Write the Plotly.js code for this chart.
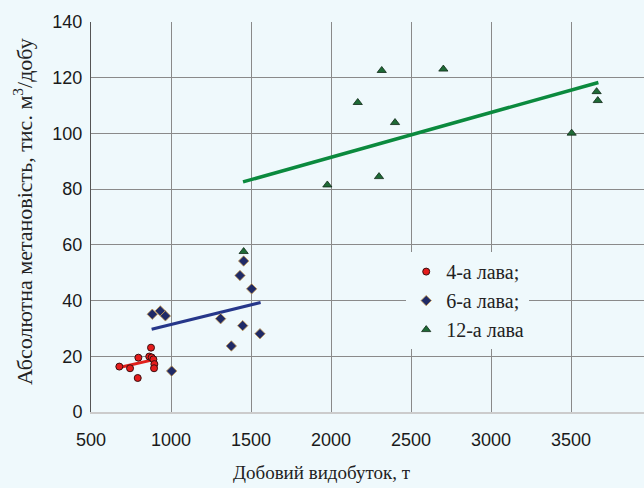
<!DOCTYPE html>
<html><head><meta charset="utf-8">
<script src="https://cdn.plot.ly/plotly-3.0.1.min.js"></script>
<style>html,body{margin:0;padding:0;background:#eff9fc;}#chart{width:644px;height:488px;}</style>
</head><body><div id="chart"></div>
<script>
// 4-а лава
const x4 = [875, 796, 864, 879, 890, 896, 894, 677, 744, 792];
const y4 = [23.1, 19.5, 19.9, 19.6, 18.9, 17.2, 15.7, 16.3, 15.7, 12.2];
const trend4X = [677, 900];
const trend4Y = [16.0, 18.9];
// 6-а лава
const x6 = [883, 933, 965, 1004, 1310, 1454, 1431, 1504, 1448, 1556, 1377];
const y6 = [35.1, 36.3, 34.5, 14.7, 33.5, 54.2, 49.0, 44.2, 31.0, 28.1, 23.7];
const trend6X = [879, 1560];
const trend6Y = [29.7, 39.3];
// 12-а лава
const x12 = [1454, 2317, 2702, 2167, 2400, 2300, 1977, 3504, 3660, 3667];
const y12 = [57.6, 122.6, 123.1, 111.1, 103.9, 84.5, 81.5, 100.1, 115.0, 111.8];
const trend12X = [1450, 3671];
const trend12Y = [82.6, 118.3];

const xTicks = [500, 1000, 1500, 2000, 2500, 3000, 3500];
const yTicks = [0, 20, 40, 60, 80, 100, 120, 140];
const names = ['4-а лава;', '6-а лава;', '12-а лава'];
const xTitle = 'Добовий видобуток, т';
const yTitle = 'Абсолютна метановість, тис. м<sup>3</sup>/добу';

const BG = '#eff9fc';
const traces = [
  {x: trend4X, y: trend4Y, mode: 'lines', line: {color: '#e0201c', width: 3}, showlegend: false, hoverinfo: 'skip'},
  {x: trend6X, y: trend6Y, mode: 'lines', line: {color: '#26378a', width: 3}, showlegend: false, hoverinfo: 'skip'},
  {x: trend12X, y: trend12Y, mode: 'lines', line: {color: '#0b8a3e', width: 3.5}, showlegend: false, hoverinfo: 'skip'},
  {x: x4, y: y4, mode: 'markers', name: names[0],
   marker: {symbol: 'circle', size: 7, color: '#e51c1c', line: {color: '#3a1010', width: 1}}},
  {x: x6, y: y6, mode: 'markers', name: names[1],
   marker: {symbol: 'diamond', size: 8, color: '#1f2a66', line: {color: '#c89a50', width: 0.8}}},
  {x: x12, y: y12, mode: 'markers', name: names[2],
   marker: {symbol: 'triangle-up', size: 8, color: '#1e6a36', line: {color: '#102a18', width: 0.8}}}
];

const layout = {
  width: 644, height: 488,
  paper_bgcolor: BG, plot_bgcolor: BG,
  margin: {l: 91, r: 0, t: 22, b: 76},
  showlegend: true,
  legend: {x: 0.57, y: 0.41, xanchor: 'left', yanchor: 'top', bgcolor: BG, borderwidth: 0,
           font: {family: 'Liberation Serif', size: 20, color: '#222'}, tracegroupgap: 0, itemsizing: 'trace'},
  xaxis: {range: [500, 3956], tickvals: xTicks, ticktext: xTicks.map(String),
          showgrid: true, gridcolor: '#8a8a8a', gridwidth: 1, zeroline: false,
          showline: true, linecolor: '#cccccc', linewidth: 2,
          ticks: 'outside', ticklen: 10, tickcolor: BG,
          tickfont: {family: 'Liberation Sans', size: 18, color: '#1a1a1a'}},
  yaxis: {range: [0, 140], tickvals: yTicks, ticktext: yTicks.map(String),
          showgrid: true, gridcolor: '#8a8a8a', gridwidth: 1, zeroline: false,
          showline: true, linecolor: '#555555', linewidth: 1,
          ticks: 'outside', ticklen: 4, tickcolor: BG,
          tickfont: {family: 'Liberation Sans', size: 18, color: '#1a1a1a'}},
  annotations: [
    {text: xTitle, xref: 'paper', yref: 'paper', x: (322 - 91) / 553, y: -(473 - 412) / 390,
     xanchor: 'center', yanchor: 'middle', showarrow: false,
     font: {family: 'Liberation Serif', size: 19, color: '#222'}},
    {text: yTitle, xref: 'paper', yref: 'paper', x: -(91 - 23) / 553, y: (412 - 212) / 390,
     xanchor: 'center', yanchor: 'middle', showarrow: false, textangle: -90,
     font: {family: 'Liberation Serif', size: 22, color: '#222'}}
  ]
};

Plotly.newPlot('chart', traces, layout, {displayModeBar: false, staticPlot: true});
</script>
</body></html>
